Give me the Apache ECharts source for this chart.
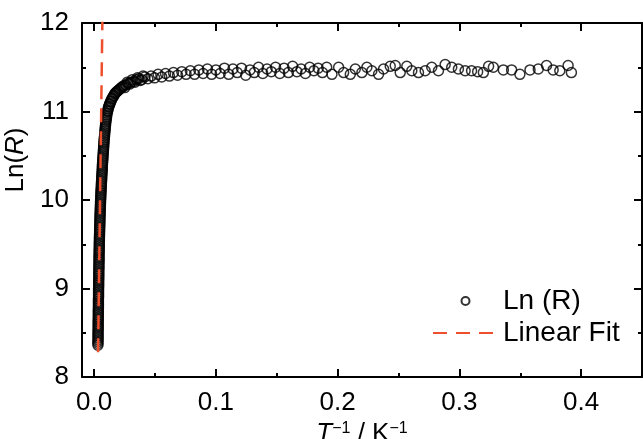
<!DOCTYPE html>
<html>
<head>
<meta charset="utf-8">
<script src="https://cdn.jsdelivr.net/npm/echarts@6/dist/echarts.min.js"></script>
<style>
  html, body { margin: 0; padding: 0; background: #fff; }
  #chart { width: 643px; height: 439px; }
</style>
</head>
<body>
<div id="chart"></div>
<script>
// Inverse temperature (1/K) for each measured point
const tInv = [
  0.0031, 0.0031, 0.0032, 0.0032, 0.0032, 0.0033, 0.0033, 0.0033, 0.0034, 0.0034,
  0.0034, 0.0035, 0.0035, 0.0035, 0.0036, 0.0036, 0.0036, 0.0037, 0.0037, 0.0038,
  0.0038, 0.0038, 0.0039, 0.0039, 0.0040, 0.0040, 0.0041, 0.0041, 0.0042, 0.0042,
  0.0043, 0.0044, 0.0045, 0.0045, 0.0046, 0.0047, 0.0048, 0.0049, 0.0050, 0.0051,
  0.0052, 0.0053, 0.0054, 0.0056, 0.0057, 0.0059, 0.0060, 0.0062, 0.0063, 0.0065,
  0.0067, 0.0068, 0.0070, 0.0072, 0.0074, 0.0076, 0.0078, 0.0080, 0.0082, 0.0085,
  0.0087, 0.0090, 0.0093, 0.0096, 0.0100, 0.0104, 0.0109, 0.0115, 0.0122, 0.0130,
  0.0139, 0.0150, 0.0162, 0.0176, 0.0191, 0.0207, 0.0224, 0.0242, 0.0261, 0.0281,
  0.0302, 0.0324, 0.0347, 0.0366, 0.0390, 0.0415, 0.0441, 0.0468, 0.0496, 0.0525,
  0.0555, 0.0586, 0.0618, 0.0651, 0.0685, 0.0720, 0.0755, 0.0790, 0.0825, 0.0860,
  0.0895, 0.0930, 0.0965, 0.1000, 0.1035, 0.1070, 0.1105, 0.1140, 0.1175, 0.1210,
  0.1245, 0.1280, 0.1315, 0.1350, 0.1385, 0.1420, 0.1455, 0.1490, 0.1525, 0.1560,
  0.1595, 0.1630, 0.1665, 0.1700, 0.1735, 0.1770, 0.1805, 0.1840, 0.1875, 0.1910,
  0.1953, 0.2008, 0.2049, 0.2104, 0.2145, 0.2199, 0.2240, 0.2281, 0.2336, 0.2377,
  0.2432, 0.2473, 0.2514, 0.2568, 0.2609, 0.2664, 0.2719, 0.2773, 0.2828, 0.2883,
  0.2937, 0.2992, 0.3047, 0.3100, 0.3150, 0.3197, 0.3240, 0.3279, 0.3361, 0.3429,
  0.3497, 0.3580, 0.3648, 0.3716, 0.3770, 0.3825, 0.3893, 0.3920,
  // additional readings along the high-temperature rise
  0.0031, 0.0032, 0.0032, 0.0032, 0.0033, 0.0033, 0.0033, 0.0034, 0.0034, 0.0034,
  0.0035, 0.0035, 0.0035, 0.0036, 0.0036, 0.0036, 0.0037, 0.0037, 0.0037, 0.0038,
  0.0038, 0.0039, 0.0039, 0.0040, 0.0040, 0.0040, 0.0041, 0.0042, 0.0042, 0.0043,
  0.0043, 0.0044, 0.0045, 0.0046, 0.0047, 0.0047, 0.0048, 0.0049, 0.0050, 0.0051,
  0.0052, 0.0054, 0.0055, 0.0056, 0.0058, 0.0059, 0.0061, 0.0062, 0.0064, 0.0066,
  0.0067, 0.0069, 0.0071, 0.0073, 0.0075, 0.0077, 0.0079, 0.0081, 0.0083, 0.0086,
  0.0089, 0.0091, 0.0094, 0.0098, 0.0102, 0.0106, 0.0112, 0.0118, 0.0126, 0.0134,
  0.0144, 0.0156, 0.0169, 0.0183, 0.0199, 0.0215, 0.0233, 0.0251, 0.0271, 0.0291,
  0.0313, 0.0335, 0.0356, 0.0378, 0.0402
];

// Natural log of resistance at each point
const lnR = [
  8.36, 8.40, 8.44, 8.48, 8.52, 8.56, 8.60, 8.64, 8.68, 8.72,
  8.76, 8.80, 8.84, 8.88, 8.92, 8.96, 9.00, 9.04, 9.08, 9.12,
  9.16, 9.20, 9.24, 9.28, 9.32, 9.36, 9.40, 9.44, 9.48, 9.52,
  9.56, 9.60, 9.64, 9.68, 9.72, 9.76, 9.80, 9.84, 9.88, 9.92,
  9.96, 10.00, 10.04, 10.08, 10.12, 10.16, 10.20, 10.24, 10.28, 10.32,
  10.36, 10.40, 10.44, 10.48, 10.52, 10.56, 10.60, 10.64, 10.68, 10.72,
  10.76, 10.80, 10.84, 10.88, 10.92, 10.96, 11.00, 11.03, 11.06, 11.09,
  11.12, 11.15, 11.18, 11.21, 11.23, 11.25, 11.27, 11.29, 11.30, 11.32,
  11.33, 11.34, 11.36, 11.37, 11.36, 11.39, 11.37, 11.40, 11.38, 11.42,
  11.39, 11.43, 11.40, 11.44, 11.41, 11.45, 11.42, 11.46, 11.42, 11.47,
  11.43, 11.48, 11.42, 11.47, 11.43, 11.49, 11.42, 11.48, 11.44, 11.49,
  11.41, 11.47, 11.44, 11.50, 11.43, 11.48, 11.45, 11.50, 11.43, 11.49,
  11.44, 11.51, 11.45, 11.48, 11.43, 11.50, 11.46, 11.49, 11.44, 11.50,
  11.42, 11.50, 11.44, 11.42, 11.48, 11.44, 11.50, 11.46, 11.42, 11.48,
  11.51, 11.52, 11.44, 11.51, 11.46, 11.44, 11.46, 11.50, 11.46, 11.53,
  11.50, 11.48, 11.46, 11.46, 11.45, 11.44, 11.51, 11.50, 11.47, 11.47,
  11.42, 11.47, 11.48, 11.52, 11.47, 11.46, 11.52, 11.44,
  // additional readings along the high-temperature rise
  8.38, 8.42, 8.46, 8.50, 8.54, 8.58, 8.62, 8.66, 8.70, 8.74,
  8.78, 8.82, 8.86, 8.90, 8.94, 8.98, 9.02, 9.06, 9.10, 9.14,
  9.18, 9.22, 9.26, 9.30, 9.34, 9.38, 9.42, 9.46, 9.50, 9.54,
  9.58, 9.62, 9.66, 9.70, 9.74, 9.78, 9.82, 9.86, 9.90, 9.94,
  9.98, 10.02, 10.06, 10.10, 10.14, 10.18, 10.22, 10.26, 10.30, 10.34,
  10.38, 10.42, 10.46, 10.50, 10.54, 10.58, 10.62, 10.66, 10.70, 10.74,
  10.78, 10.82, 10.86, 10.90, 10.94, 10.98, 11.01, 11.05, 11.08, 11.11,
  11.14, 11.17, 11.20, 11.22, 11.24, 11.26, 11.28, 11.27, 11.33, 11.31,
  11.36, 11.33, 11.38, 11.35, 11.40
];

// Endpoints of the linear (Arrhenius) fit
const fitX = [0.0032, 0.0070];
const fitY = [8.28, 12.30];

// Tick positions
const xMajorTicks = [0, 0.1, 0.2, 0.3, 0.4];
const xMinorTicks = [0.05, 0.15, 0.25, 0.35];
const yTickValues = [8, 9, 10, 11, 12];

const seriesNames = ['Ln (R)', 'Linear Fit'];

const FONT = 'Liberation Sans, Arial, sans-serif';
const FS = 26;
const INK = '#000';
const FIT_COLOR = '#ee4f2c';

const scatterData = tInv.map((x, i) => [x, lnR[i]]);
const fitData = fitX.map((x, i) => [x, fitY[i]]);

const xRange = { min: -0.01, max: 0.45 };
const yRange = { min: yTickValues[0], max: yTickValues[yTickValues.length - 1] };

function xAxisDef(position, values, tickLen, withLabels, withLine) {
  return {
    type: 'value',
    position: position,
    min: xRange.min,
    max: xRange.max,
    splitLine: { show: false },
    axisLine: { show: withLine, onZero: false, lineStyle: { color: INK, width: 2 } },
    axisTick: {
      show: true, inside: true, length: tickLen, customValues: values,
      lineStyle: { color: INK, width: 2 }
    },
    axisLabel: withLabels ? {
      show: true, customValues: values, margin: 13,
      color: INK, fontSize: FS, fontFamily: FONT,
      formatter: v => v.toFixed(1)
    } : { show: false }
  };
}

function yAxisDef(position, withLabels) {
  return {
    type: 'value',
    position: position,
    min: yRange.min,
    max: yRange.max,
    interval: 1,
    splitLine: { show: false },
    axisLine: { show: true, onZero: false, lineStyle: { color: INK, width: 2 } },
    axisTick: { show: true, inside: true, length: 8, lineStyle: { color: INK, width: 2 } },
    minorTick: { show: true, splitNumber: 2, length: 4, lineStyle: { color: INK, width: 2 } },
    axisLabel: withLabels ? {
      show: true, margin: 13, color: INK, fontSize: FS, fontFamily: FONT
    } : { show: false }
  };
}

const xBottom = xAxisDef('bottom', xMajorTicks, 8, true, true);
xBottom.name = '{i|T}{s|\u22121} / K{s|\u22121}';
xBottom.nameLocation = 'middle';
xBottom.nameGap = 40;
xBottom.nameTextStyle = {
  color: INK, fontSize: FS, fontFamily: FONT,
  rich: {
    i: { fontStyle: 'italic', fontSize: FS, fontFamily: FONT, color: INK },
    s: { fontSize: 16, fontFamily: FONT, color: INK, verticalAlign: 'top', padding: [0, 0, 10, 0] }
  }
};

const yLeft = yAxisDef('left', true);
yLeft.name = '{n|Ln(}{i|R}{n|)}';
yLeft.nameLocation = 'middle';
yLeft.nameGap = 40;
yLeft.nameTextStyle = {
  color: INK, fontSize: FS, fontFamily: FONT,
  padding: [0, 0, 0, 80],
  rich: {
    n: { fontSize: FS, fontFamily: FONT, color: INK },
    i: { fontSize: FS, fontFamily: FONT, color: INK, fontStyle: 'italic' }
  }
};

const option = {
  animation: false,
  backgroundColor: '#fff',
  textStyle: { fontFamily: FONT, color: INK },
  grid: { left: 82, right: 1, top: 23, bottom: 62, containLabel: false, outerBoundsMode: 'none' },
  xAxis: [
    xBottom,
    xAxisDef('bottom', xMinorTicks, 4, false, false),
    xAxisDef('top', xMajorTicks, 8, false, true),
    xAxisDef('top', xMinorTicks, 4, false, false)
  ],
  yAxis: [yLeft, yAxisDef('right', false)],
  legend: {
    data: [
      { name: seriesNames[0] },
      { name: seriesNames[1], itemStyle: { opacity: 0 } }
    ],
    orient: 'vertical',
    left: 427,
    top: 282,
    itemWidth: 65,
    itemHeight: 8,
    itemGap: 4,
    textStyle: { color: INK, fontSize: 28, fontFamily: FONT }
  },
  series: [
    {
      name: seriesNames[0],
      type: 'scatter',
      xAxisIndex: 0,
      yAxisIndex: 0,
      data: scatterData,
      symbol: 'circle',
      symbolSize: 10,
      itemStyle: { color: 'rgba(255,255,255,0)', borderColor: INK, borderWidth: 1.5 },
      z: 2
    },
    {
      name: seriesNames[1],
      type: 'line',
      xAxisIndex: 0,
      yAxisIndex: 0,
      data: fitData,
      showSymbol: false,
      symbol: 'none',
      clip: true,
      lineStyle: { color: FIT_COLOR, width: 2.5, type: [14, 9] },
      itemStyle: { color: FIT_COLOR },
      z: 3
    }
  ]
};

const chart = echarts.init(document.getElementById('chart'), null, { renderer: 'canvas' });
chart.setOption(option);
</script>
</body>
</html>
